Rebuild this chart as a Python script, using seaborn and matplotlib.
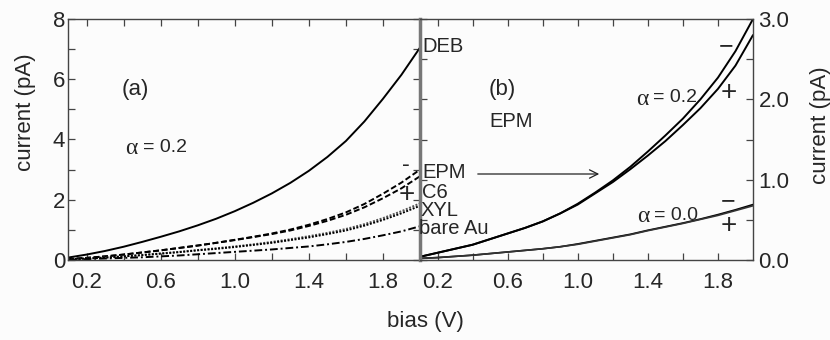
import numpy as np
import pandas as pd
import matplotlib
matplotlib.use("Agg")
import matplotlib.pyplot as plt
import seaborn as sns

# ---- data ----
bias = [0.1, 0.2, 0.3, 0.4, 0.5, 0.6, 0.7, 0.8, 0.9, 1.0,
        1.1, 1.2, 1.3, 1.4, 1.5, 1.6, 1.7, 1.8, 1.9, 2.0]

# panel (a), alpha = 0.2
deb     = [0.08, 0.18, 0.30, 0.44, 0.60, 0.77, 0.95, 1.15, 1.37, 1.62,
           1.90, 2.21, 2.56, 2.96, 3.42, 3.95, 4.60, 5.35, 6.15, 7.05]
epm_min = [0.03, 0.07, 0.12, 0.18, 0.25, 0.32, 0.40, 0.48, 0.57, 0.67,
           0.77, 0.88, 1.01, 1.17, 1.36, 1.58, 1.86, 2.20, 2.57, 3.00]
epm_pls = [0.03, 0.07, 0.12, 0.18, 0.25, 0.32, 0.40, 0.48, 0.57, 0.66,
           0.76, 0.86, 0.98, 1.13, 1.30, 1.50, 1.75, 2.05, 2.38, 2.78]
c6      = [0.02, 0.05, 0.08, 0.12, 0.17, 0.22, 0.27, 0.33, 0.39, 0.45,
           0.52, 0.60, 0.69, 0.79, 0.90, 1.03, 1.19, 1.39, 1.62, 1.88]
xyl     = [0.02, 0.05, 0.08, 0.12, 0.16, 0.21, 0.26, 0.32, 0.37, 0.43,
           0.50, 0.57, 0.66, 0.75, 0.86, 0.98, 1.14, 1.33, 1.55, 1.80]
bare_au = [0.01, 0.03, 0.05, 0.07, 0.09, 0.12, 0.15, 0.19, 0.23, 0.27,
           0.31, 0.35, 0.40, 0.45, 0.52, 0.60, 0.70, 0.82, 0.95, 1.12]

# panel (b), EPM
a02_min = [0.04, 0.09, 0.14, 0.19, 0.26, 0.33, 0.40, 0.48, 0.58, 0.70,
           0.84, 0.99, 1.16, 1.35, 1.55, 1.76, 2.00, 2.27, 2.60, 3.00]
a02_pls = [0.04, 0.09, 0.14, 0.19, 0.26, 0.33, 0.40, 0.48, 0.58, 0.69,
           0.83, 0.97, 1.13, 1.30, 1.48, 1.68, 1.89, 2.13, 2.42, 2.80]
a00_min = [0.02, 0.03, 0.045, 0.06, 0.08, 0.10, 0.12, 0.14, 0.165, 0.20,
           0.24, 0.28, 0.32, 0.37, 0.415, 0.46, 0.51, 0.565, 0.625, 0.69]
a00_pls = [0.02, 0.03, 0.045, 0.06, 0.08, 0.10, 0.12, 0.14, 0.165, 0.195,
           0.235, 0.275, 0.315, 0.365, 0.41, 0.455, 0.505, 0.555, 0.615, 0.675]

xticks = [0.2, 0.6, 1.0, 1.4, 1.8]
xtick_labels = ["0.2", "0.6", "1.0", "1.4", "1.8"]
yticks_a = [0, 2, 4, 6, 8]
yticks_b = [0.0, 1.0, 2.0, 3.0]
ytick_labels_b = ["0.0", "1.0", "2.0", "3.0"]

# ---- style ----
sns.set_theme(style="ticks")
plt.rcParams["font.family"] = ["Liberation Sans", "DejaVu Sans"]
BG = "#fcfcfc"

W, H = 830, 340
fig = plt.figure(figsize=(W / 100, H / 100), dpi=100, facecolor=BG)

def box(l, t, r, b):
    return [l / W, 1 - b / H, (r - l) / W, (b - t) / H]

axa = fig.add_axes(box(68, 19, 420, 260), facecolor=BG)
axb = fig.add_axes(box(420, 19, 753, 260), facecolor=BG)

def line(ax, y, dashes=None, lw=1.4, color="black"):
    df = pd.DataFrame({"bias": bias, "current": y})
    sns.lineplot(data=df, x="bias", y="current", ax=ax, color=color,
                 lw=lw, sort=True)
    ln = ax.lines[-1]
    if dashes is not None:
        ln.set_dashes(dashes)
    return ln

line(axa, deb)
line(axa, epm_min, dashes=(3, 1.4))
line(axa, epm_pls, dashes=(3, 1.4))
line(axa, c6, dashes=(1, 0.8), color="#555555")
line(axa, xyl, dashes=(1, 0.8))
line(axa, bare_au, dashes=(4, 1.5, 1, 1.5))

line(axb, a02_min)
line(axb, a02_pls)
line(axb, a00_min, lw=1.2)
line(axb, a00_pls, lw=1.2, color="#333333")

for ax in (axa, axb):
    ax.set_xlim(0.1, 2.0)
    ax.set_xlabel("")
    ax.set_ylabel("")
    ax.set_xticks(xticks)
    ax.set_xticklabels(xtick_labels)
    ax.set_xticks(np.arange(0.2, 2.0, 0.2), minor=True)
    ax.tick_params(which="both", direction="in", top=True, bottom=True,
                   left=True, right=True, length=5, width=0.9,
                   color="#444444")
    ax.tick_params(axis="x", labelsize=16, pad=9)
    for s in ax.spines.values():
        s.set_linewidth(1.0)
        s.set_color("#444444")

axa.set_ylim(0, 8)
axa.set_yticks(yticks_a)
axa.set_yticks([1, 3, 5, 7], minor=True)
axa.tick_params(axis="y", labelsize=16, pad=2)

axb.set_ylim(0, 3)
axb.set_yticks(yticks_b)
axb.set_yticklabels(ytick_labels_b)
axb.set_yticks([0.5, 1.5, 2.5], minor=True)
axb.yaxis.tick_right()
axb.tick_params(axis="y", which="both", left=True, right=True,
                labelleft=False, labelright=True, labelsize=16, pad=4)
axb.spines["left"].set_linewidth(2.5)
axb.spines["left"].set_color("#777777")

def ftext(x, y, s, size=15, ha="center", va="center", **kw):
    fig.text(x / W, 1 - y / H, s, fontsize=size, ha=ha, va=va, **kw)

def alpha_label(x_alpha, x_rest, y, value):
    ftext(x_alpha, y + 1, "\u03b1", size=17, family=["Liberation Serif"])
    ftext(x_rest, y, "= " + value, size=14, ha="left")

# axis labels
ftext(26, 112, "current (pA)", size=16, rotation=90)
ftext(820, 125, "current (pA)", size=16, rotation=90)
ftext(425, 322, "bias (V)", size=16)

# panel (a) annotations
ftext(135, 90, "(a)", size=16)
alpha_label(131, 143, 147, "0.2")
ftext(406, 165, "-", size=17)
ftext(407, 195, "+", size=20)
ftext(422, 46, "DEB", size=14.5, ha="left")
ftext(422, 172, "EPM", size=14.5, ha="left")
ftext(422, 192, "C6", size=14.5, ha="left")
ftext(421, 210, "XYL", size=14.5, ha="left")
ftext(419, 229, "bare Au", size=14.5, ha="left")

# arrow from the EPM label to panel (b)
fig.add_artist(matplotlib.patches.FancyArrowPatch(
    (475 / W, 1 - 174 / H), (602 / W, 1 - 174 / H),
    transform=fig.transFigure, arrowstyle="->,head_length=6,head_width=3",
    lw=0.9, color="#222222"))

# panel (b) annotations
ftext(502, 90, "(b)", size=16)
ftext(511, 121, "EPM", size=14.5)
alpha_label(642, 653, 98, "0.2")
ftext(726, 46, "\u2212", size=18)
ftext(729, 93, "+", size=20)
alpha_label(643, 654, 215, "0.0")
ftext(728, 201, "\u2212", size=18)
ftext(729, 226, "+", size=20)

fig.savefig("out.png", dpi=100, facecolor=BG)
